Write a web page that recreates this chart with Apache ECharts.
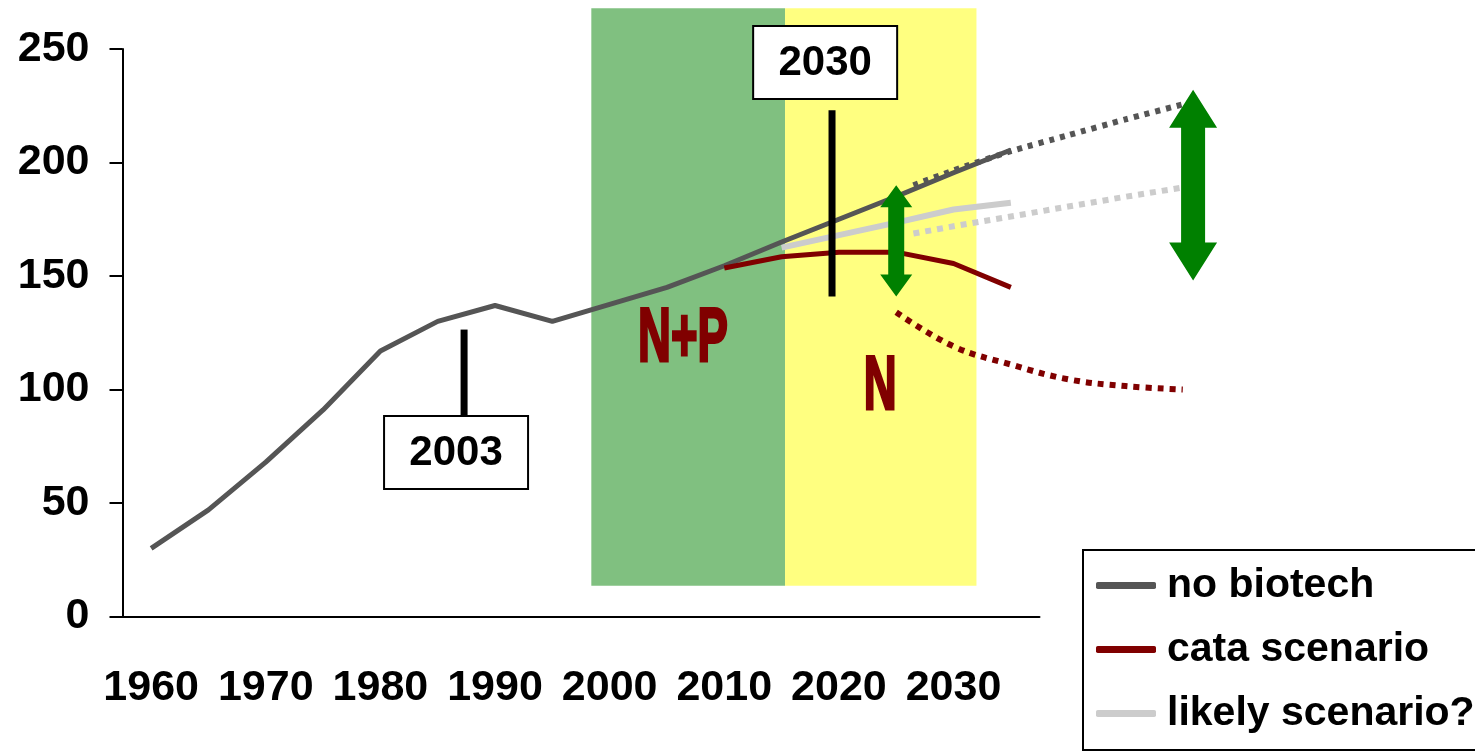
<!DOCTYPE html>
<html><head><meta charset="utf-8">
<script src="https://cdn.jsdelivr.net/npm/echarts@6/dist/echarts.min.js"></script>
<style>html,body{margin:0;padding:0;background:#fff}#c{width:1475px;height:754px}</style>
</head><body><div id="c"></div>
<script>
// ---- data ----
const categories = ['1960','1965','1970','1975','1980','1985','1990','1995','2000','2005','2010','2015','2020','2025','2030','2035'];
const noBiotech = [30,47,68,91,117,130,137,130,137.5,145,154.5,165,175,185,195.5,205.5];
const cataYears = [2010,2015,2020,2025,2030,2035];
const cataScenario = [153.5,158.5,160.5,160.5,155.5,145];
const likelyYears = [2015,2020,2025,2030,2035];
const likelyScenario = [162.5,168,173.5,179.3,182.3];
// dotted outlooks (extend beyond the axis)
const noBiotechOutlookYears = [2026.5,2030,2035,2040,2045,2050];
const noBiotechOutlook = [190,196.5,205,212,219,225.6];
const likelyOutlookYears = [2026.5,2030,2035,2040,2045,2050];
const likelyOutlook = [168.7,171.9,176.2,180.6,184.9,189];
const cataOutlookYears = [2025,2030,2035,2040,2045,2050];
const cataOutlook = [134,119,111,104.5,101.5,100];
const yTicks = [0,50,100,150,200,250];
// shaded regions
const bandStart = [1998.4,2015.3];
const bandEnd = [2015.3,2032];
const bandLow = [13.5,13.5];
const bandHigh = [268,268];
const bandColors = ['#80c080','#ffff80'];
const regionLabels = ['N+P','N'];
const regionLabelX = [2006.4,2023.6];
const regionLabelY = [122,100.6];
// year markers
const markerLabels = ['2003','2030'];
const markerX = [1987.3,2019.4];
const markerTop = [126.4,223];
const markerBottom = [88.4,141];
const markerBoxX = [1986.6,2018.8];
const markerBoxY = [72.3,244];
// range arrows
const arrowX = [2025,2050.9];
const arrowLow = [141,148];
const arrowHigh = [190,232];
const arrowSize = ['small','big'];

const FONT = '"Liberation Sans", Arial, sans-serif';
const pairs = (xs, ys) => xs.map((x,i)=>[x, ys[i]]);

const outlooks = [
  {xs: noBiotechOutlookYears, ys: noBiotechOutlook, color: '#555555', width: 6, dash: [5,6], smooth: 0.2},
  {xs: likelyOutlookYears, ys: likelyOutlook, color: '#cccccc', width: 6, dash: [6,6], smooth: 0},
  {xs: cataOutlookYears, ys: cataOutlook, color: '#800000', width: 6, dash: [6,6], smooth: 0.4}
];

const chart = echarts.init(document.getElementById('c'), null, {renderer:'canvas'});
const option = {
  animation: false,
  backgroundColor: '#fff',
  grid: {left: 122.5, right: 435.5, top: 49, bottom: 137.5, containLabel: false},
  legend: {
    data: ['no biotech','cata scenario','likely scenario?'],
    orient: 'vertical', left: 1083, top: 550,
    icon: 'roundRect', itemWidth: 60, itemHeight: 7, itemGap: 23,
    padding: [15, 4, 16, 13],
    borderColor: '#000', borderWidth: 2, backgroundColor: '#fff',
    selectedMode: false,
    textStyle: {fontSize: 41, fontWeight: 'bold', fontFamily: FONT, color: '#000', padding: [0,0,0,6]}
  },
  xAxis: [
    {type: 'category', data: categories, boundaryGap: true,
     axisLine: {lineStyle: {color: '#000', width: 2}},
     axisTick: {interval: 0, length: 15, lineStyle: {color: '#000', width: 2}},
     axisLabel: {interval: 1, margin: 50, fontSize: 43, fontWeight: 'bold', fontFamily: FONT, color: '#000'},
     splitLine: {show: false}},
    {type: 'value', min: 1957.5, max: 2037.5, show: false, splitLine: {show: false}}
  ],
  yAxis: [{type: 'value', min: 0, max: 250, interval: 50,
    axisLine: {show: true, lineStyle: {color: '#000', width: 2}},
    axisTick: {show: true, length: 13, lineStyle: {color: '#000', width: 2}},
    axisLabel: {margin: 33, fontSize: 43, fontWeight: 'bold', fontFamily: FONT, color: '#000',
      formatter: v => yTicks.indexOf(v) >= 0 ? String(v) : ''},
    splitLine: {show: false}}],
  series: [
    {type: 'custom', name: 'bands', xAxisIndex: 1, yAxisIndex: 0, z: 1, silent: true, clip: false,
     data: bandStart.map((s,i)=>[s, bandEnd[i], bandLow[i], bandHigh[i]]),
     encode: {x: [0,1], y: [2,3]},
     renderItem: (params, api) => {
       const p0 = api.coord([api.value(0), api.value(3)]);
       const p1 = api.coord([api.value(1), api.value(2)]);
       return {type: 'rect', shape: {x: p0[0], y: p0[1], width: p1[0]-p0[0], height: p1[1]-p0[1]},
               style: {fill: bandColors[params.dataIndex]}};
     }},
    {type: 'custom', name: 'regionLabels', xAxisIndex: 1, yAxisIndex: 0, z: 2, silent: true, clip: false,
     data: regionLabelX.map((x,i)=>[x, regionLabelY[i]]),
     renderItem: (params, api) => {
       const p = api.coord([api.value(0), api.value(1)]);
       return {type: 'text', x: p[0], y: p[1], scaleX: 0.6,
               style: {text: regionLabels[params.dataIndex], font: 'bold 76px ' + FONT, fill: '#800000',
                       stroke: '#800000', lineWidth: 3, align: 'center', verticalAlign: 'middle'}};
     }},
    {type: 'line', name: 'no biotech', xAxisIndex: 0, yAxisIndex: 0, z: 5, data: noBiotech,
     symbol: 'none', color: '#555555', lineStyle: {width: 5, color: '#555555'}},
    {type: 'line', name: 'cata scenario', xAxisIndex: 1, yAxisIndex: 0, z: 5, data: pairs(cataYears, cataScenario),
     symbol: 'none', color: '#800000', lineStyle: {width: 5, color: '#800000'}},
    {type: 'line', name: 'likely scenario?', xAxisIndex: 1, yAxisIndex: 0, z: 4, data: pairs(likelyYears, likelyScenario),
     symbol: 'none', color: '#cccccc', lineStyle: {width: 6, color: '#cccccc'}},
    {type: 'custom', name: 'outlooks', xAxisIndex: 1, yAxisIndex: 0, z: 4, silent: true, clip: false,
     data: outlooks.map((o,i)=>[o.xs[0], o.ys[0], i]),
     renderItem: (params, api) => {
       const o = outlooks[params.dataIndex];
       const pts = o.xs.map((x,k)=>api.coord([x, o.ys[k]]));
       return {type: 'polyline', shape: {points: pts, smooth: o.smooth},
               style: {stroke: o.color, lineWidth: o.width, lineDash: o.dash, lineCap: 'butt', fill: null}};
     }},
    {type: 'custom', name: 'markers', xAxisIndex: 1, yAxisIndex: 0, z: 6, silent: true, clip: false,
     data: markerX.map((x,i)=>[x, markerTop[i], markerBottom[i], markerBoxX[i], markerBoxY[i]]),
     renderItem: (params, api) => {
       const t = api.coord([api.value(0), api.value(1)]);
       const b = api.coord([api.value(0), api.value(2)]);
       const c = api.coord([api.value(3), api.value(4)]);
       const w = 144, h = 73;
       return {type: 'group', children: [
         {type: 'rect', shape: {x: t[0]-3.5, y: t[1], width: 7, height: b[1]-t[1]}, style: {fill: '#000'}},
         {type: 'rect', shape: {x: c[0]-w/2, y: c[1]-h/2, width: w, height: h},
          style: {fill: '#fff', stroke: '#000', lineWidth: 2}},
         {type: 'text', x: c[0], y: c[1] + 1,
          style: {text: markerLabels[params.dataIndex], font: 'bold 42px ' + FONT, fill: '#000',
                  align: 'center', verticalAlign: 'middle'}}
       ]};
     }},
    {type: 'custom', name: 'arrows', xAxisIndex: 1, yAxisIndex: 0, z: 7, silent: true, clip: false,
     data: arrowX.map((x,i)=>[x, arrowLow[i], arrowHigh[i]]),
     renderItem: (params, api) => {
       const top = api.coord([api.value(0), api.value(2)]);
       const bot = api.coord([api.value(0), api.value(1)]);
       const big = arrowSize[params.dataIndex] === 'big';
       const sw = big ? 12 : 8, hw = big ? 24 : 16, hl = big ? 38 : 22;
       const x = top[0], y0 = top[1], y1 = bot[1];
       const pts = [[x, y0],[x+hw, y0+hl],[x+sw, y0+hl],[x+sw, y1-hl],[x+hw, y1-hl],[x, y1],
                    [x-hw, y1-hl],[x-sw, y1-hl],[x-sw, y0+hl],[x-hw, y0+hl]];
       return {type: 'polygon', shape: {points: pts}, style: {fill: '#008000'}};
     }}
  ]
};
chart.setOption(option);
</script></body></html>
